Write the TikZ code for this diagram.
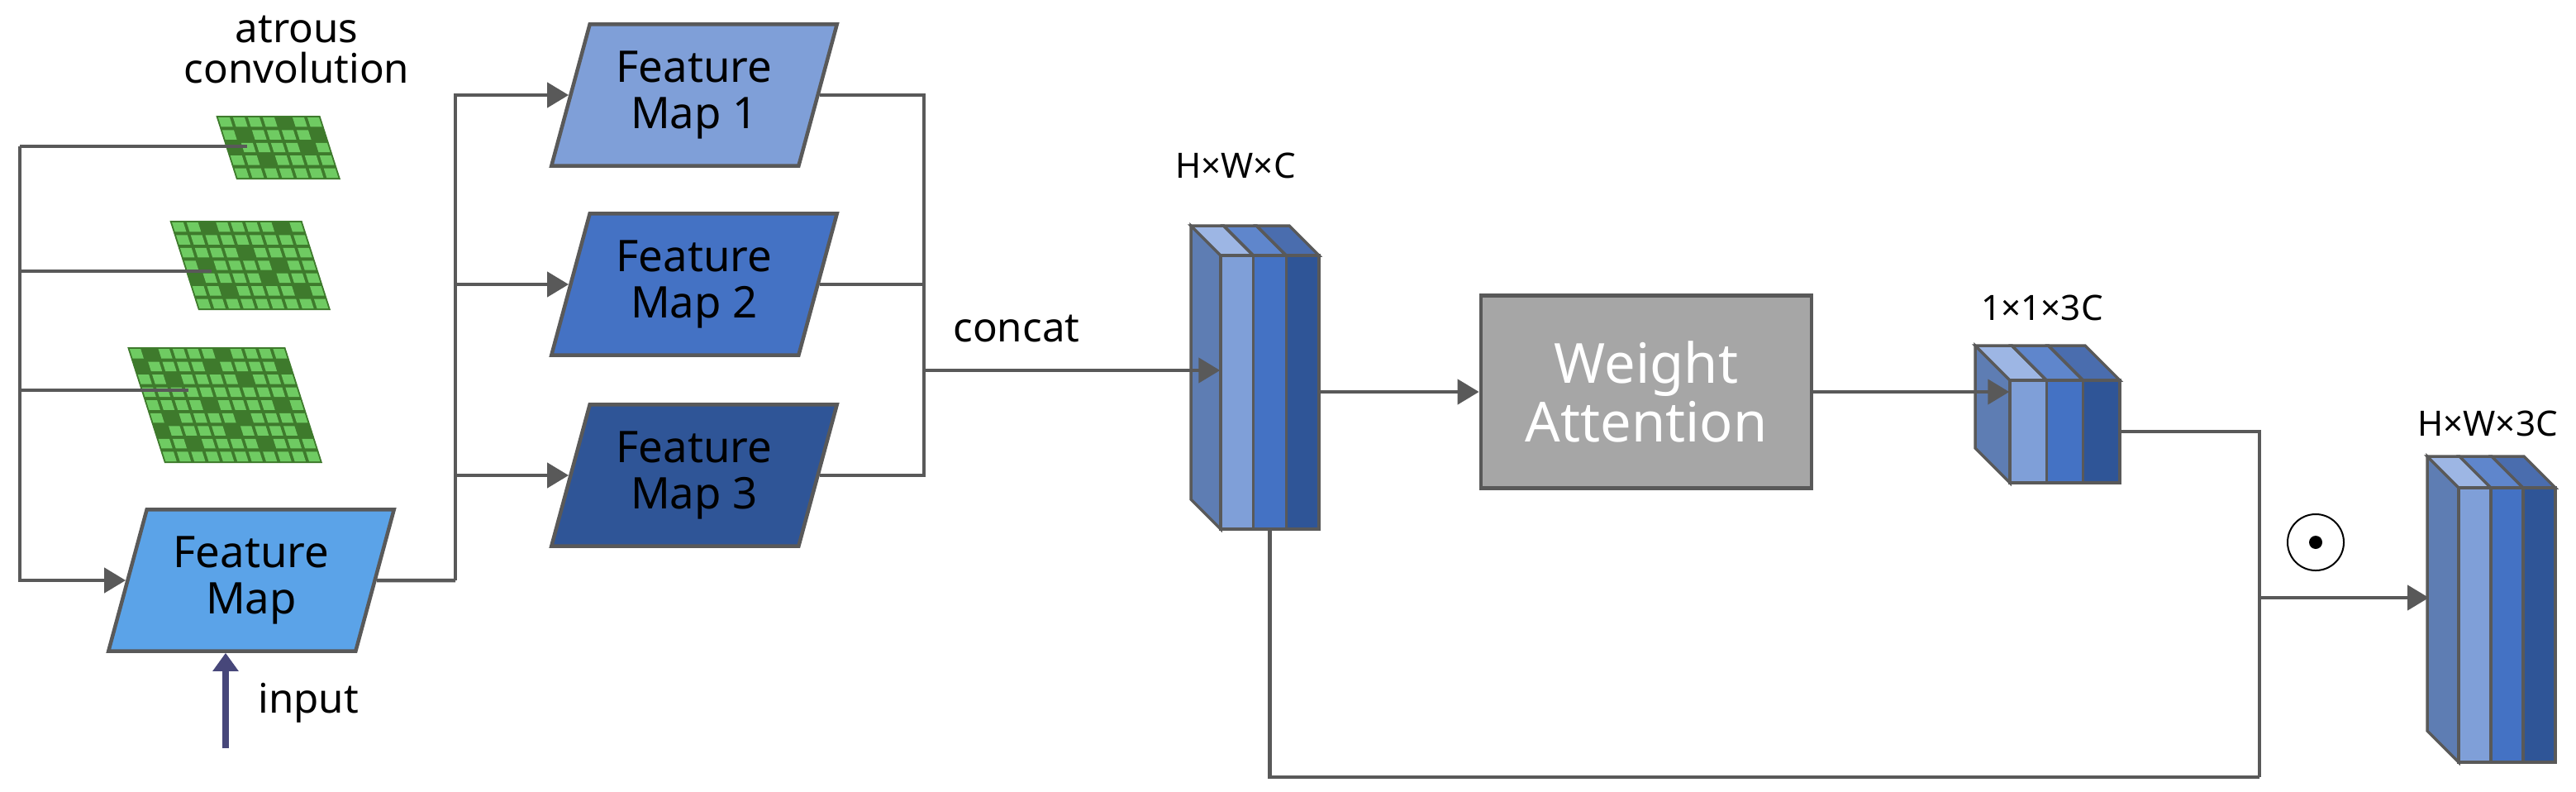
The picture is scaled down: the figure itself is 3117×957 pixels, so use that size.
\documentclass[tikz,border=0pt]{standalone}
\usepackage{fontspec}
\setmainfont{Noto Sans}
\usetikzlibrary{shapes.geometric,arrows.meta}
\definecolor{ln}{HTML}{595959}
\definecolor{fm0}{HTML}{5BA3E8}
\definecolor{fmA}{HTML}{7F9FD8}
\definecolor{fmB}{HTML}{4472C4}
\definecolor{fmC}{HTML}{2F5597}
\definecolor{side}{HTML}{5E7DB3}
\definecolor{topA}{HTML}{9DB6E4}
\definecolor{topB}{HTML}{5F86CC}
\definecolor{topC}{HTML}{4A6DAE}
\definecolor{gD}{HTML}{3E7A2C}
\definecolor{gL}{HTML}{6FCB62}
\definecolor{wa}{HTML}{A6A6A6}
\newcommand\mycube[5]{% x0 y0 x1 y1 d
  \pgfmathsetmacro\xa{#1+(#3-#1)/3}\pgfmathsetmacro\xb{#1+2*(#3-#1)/3}
  \draw[cube,fill=side] (#1,#2)--(#1-#5,#2-#5)--(#1-#5,#4-#5)--(#1,#4)--cycle;
  \draw[cube,fill=topA] (#1,#2)--(#1-#5,#2-#5)--(\xa-#5,#2-#5)--(\xa,#2)--cycle;
  \draw[cube,fill=topB] (\xa,#2)--(\xa-#5,#2-#5)--(\xb-#5,#2-#5)--(\xb,#2)--cycle;
  \draw[cube,fill=topC] (\xb,#2)--(\xb-#5,#2-#5)--(#3-#5,#2-#5)--(#3,#2)--cycle;
  \draw[cube,fill=fmA] (#1,#2) rectangle (\xa,#4);
  \draw[cube,fill=fmB] (\xa,#2) rectangle (\xb,#4);
  \draw[cube,fill=fmC] (\xb,#2) rectangle (#3,#4);
}
\newcommand\mygrid[6]{% x0 ybottom width height cols rows
  \begin{scope}[shift={(#1,#2)},xslant=-0.32]
    \fill[gD] (0,0) rectangle (#3,-#4);
    \pgfmathsetmacro\cw{#3/#5}\pgfmathsetmacro\ch{#4/#6}
    \foreach \i in {1,...,#5}{\foreach \j in {1,...,#6}{
      \pgfmathtruncatemacro\r{mod(\i*7+\j*13+\i*\j*3,5)}
      \ifnum\r>0
        \fill[gL] ({(\i-1)*\cw+2},{-(\j-1)*\ch-2}) rectangle ({\i*\cw-2},{-\j*\ch+2});
      \fi}}
  \end{scope}}
\begin{document}
\begin{tikzpicture}[x=0.01cm,y=-0.01cm,
  cube/.style={draw=ln,line width=0.035cm},
  par/.style={trapezium,trapezium stretches=true,trapezium left angle=72,trapezium right angle=108,
    draw=ln,line width=0.045cm,minimum width=3.46cm,minimum height=1.71cm,inner sep=0pt,
    align=center,font=\fontsize{15}{19}\selectfont,text=black},
  con/.style={draw=ln,line width=0.045cm},
  arr/.style={con,-{Triangle[length=0.26cm,width=0.3cm]}},
  lab/.style={font=\fontsize{14}{18}\selectfont,align=center},
  dim/.style={font=\fontsize{12}{15}\selectfont}]
\useasboundingbox (0,0) rectangle (3117,957);
% grids
\mygrid{286}{217}{126}{77}{7}{5}
\mygrid{240}{375}{160}{108}{9}{7}
\mygrid{199}{560}{191}{140}{11}{9}
\coordinate (g1) at (299,177);
\coordinate (g2) at (256,328);
\coordinate (g3) at (228,472);
\node[lab] (atr) at (359,60) {atrous\\[-4pt]convolution};
% feature maps
\node[par,fill=fm0] (fm) at (304,702) {Feature\\[-3pt]Map};
\node[par,fill=fmA] (fm1) at (840,115) {Feature\\[-3pt]Map 1};
\node[par,fill=fmB] (fm2) at (840,344) {Feature\\[-3pt]Map 2};
\node[par,fill=fmC] (fm3) at (840,575) {Feature\\[-3pt]Map 3};
% input
\coordinate (in0) at (273,905);
\draw[line width=0.08cm,draw=ln!80!blue,-{Triangle[length=0.22cm,width=0.3cm]}] (in0) -- (fm.south -| in0);
\node[lab,anchor=west] (inp) at (300,850) {input};
% left connectors
\coordinate (L) at (24,177);
\draw[con] (g1) -- (L);
\draw[con] (g2) -- (g2 -| L);
\draw[con] (g3) -- (g3 -| L);
\draw[arr] (L) |- (fm.west);
\coordinate (J) at (551,702);
\draw[con] (fm.east) -- (J);
\draw[arr] (J) |- (fm1.west);
\draw[arr] (J) |- (fm2.west);
\draw[arr] (J) |- (fm3.west);
\coordinate (K) at (1118,448);
\draw[con] (fm1.east) -| (K);
\draw[con] (fm3.east) -| (K);
\draw[con] (fm2.east) -- (fm2.east -| K);
% blocks
\mycube{1477}{309}{1596}{640}{36}
\node[minimum width=1.19cm,minimum height=3.31cm,inner sep=0] (b1) at (1536.5,474.5) {};
\mycube{2432}{460}{2565}{584}{42}
\node[minimum width=1.33cm,minimum height=1.24cm,inner sep=0] (b2) at (2498.5,522) {};
\mycube{2975}{590}{3092}{922}{38}
\node[minimum width=1.17cm,minimum height=3.32cm,inner sep=0] (b3) at (3033.5,756) {};
\node[dim] (l1) at (1495,200) {H×W×C};
\node[dim] (l2) at (2471,372) {1×1×3C};
\node[dim] (l3) at (3010,512) {H×W×3C};
\node[lab] (cc) at (1230,398) {concat};
\draw[arr] (K) -- (K -| b1.west);
% weight attention
\node[draw=ln,line width=0.045cm,fill=wa,minimum width=4.0cm,minimum height=2.33cm,
  text=white,font=\fontsize{19}{24}\selectfont,align=center] (wa) at (1992,474) {Weight\\[-4pt]Attention};
\draw[arr] (b1.east |- wa.west) -- (wa.west);
\draw[arr] (wa.east) -- (wa.east -| b2.west);
% skip
\coordinate (M) at (2734,940);
\draw[con] (b2.east) -| (M);
\draw[con] (M) -| (b1.south);
\coordinate (N) at (2734,723);
\coordinate (b3l) at (2939,723);
\draw[arr] (N) -- (b3l);
\node[circle,draw=black,line width=0.02cm,minimum size=0.68cm,inner sep=0] (od) at (2802,656) {};
\fill (od.center) circle (8);
\end{tikzpicture}
\end{document}
